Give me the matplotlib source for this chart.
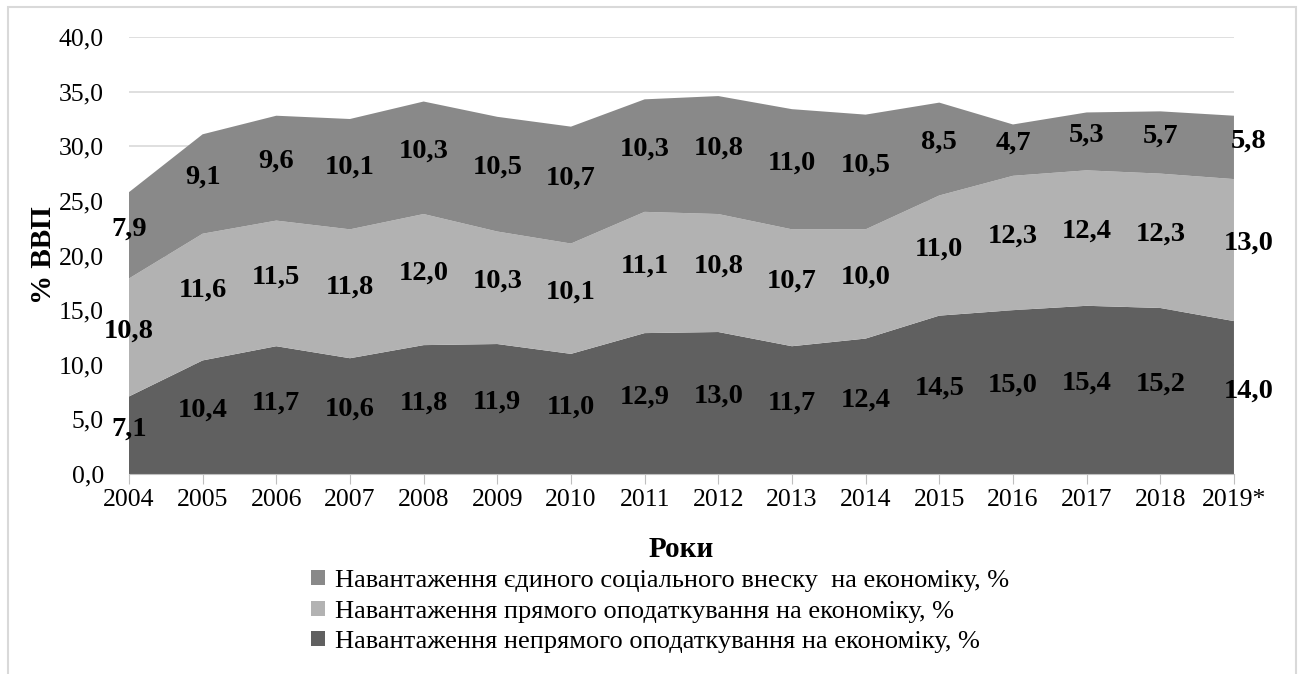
import matplotlib
matplotlib.use("Agg")
import matplotlib.pyplot as plt
import numpy as np
from matplotlib.ticker import FuncFormatter
from matplotlib.patches import Rectangle

plt.rcParams['font.family'] = ['Liberation Serif', 'DejaVu Serif']

years = ['2004', '2005', '2006', '2007', '2008', '2009', '2010', '2011',
         '2012', '2013', '2014', '2015', '2016', '2017', '2018', '2019*']
indirect = [7.1, 10.4, 11.7, 10.6, 11.8, 11.9, 11.0, 12.9, 13.0, 11.7, 12.4, 14.5, 15.0, 15.4, 15.2, 14.0]
direct = [10.8, 11.6, 11.5, 11.8, 12.0, 10.3, 10.1, 11.1, 10.8, 10.7, 10.0, 11.0, 12.3, 12.4, 12.3, 13.0]
esv = [7.9, 9.1, 9.6, 10.1, 10.3, 10.5, 10.7, 10.3, 10.8, 11.0, 10.5, 8.5, 4.7, 5.3, 5.7, 5.8]

names = ['Навантаження непрямого оподаткування на економіку, %',
         'Навантаження прямого оподаткування на економіку, %',
         'Навантаження єдиного соціального внеску  на економіку, %']
colors = ['#606060', '#b2b2b2', '#898989']

fig = plt.figure(figsize=(13, 6.74), dpi=100)
ax = fig.add_axes([0.0992, 0.2967, 0.8500, 0.6483])

x = np.arange(len(years))
series = [indirect, direct, esv]
ax.stackplot(x, *series, colors=colors, labels=names, zorder=2)

# value labels roughly in the middle of each band
base = np.zeros(len(years))
for vals in series:
    vals = np.array(vals)
    mids = base + vals / 2 + 0.6
    for i, (v, m) in enumerate(zip(vals, mids)):
        xi = i + (0.2 if i == len(years) - 1 else 0)
        ax.text(xi, m, f'{v:.1f}'.replace('.', ','), ha='center', va='center',
                fontsize=20.5, fontweight='bold', color='black', zorder=4)
    base = base + vals

ax.set_xlim(0, len(years) - 1)
ax.set_ylim(0, 40)
ax.set_yticks(np.arange(0, 41, 5))
ax.yaxis.set_major_formatter(FuncFormatter(lambda v, p: f'{v:.1f}'.replace('.', ',')))
ax.set_xticks(x)
ax.set_xticklabels(years)
ax.tick_params(axis='y', length=0, labelsize=18.5, pad=18)
ax.tick_params(axis='x', length=7, color='#bfbfbf', labelsize=18.5, pad=4)
ax.grid(axis='y', color='#d9d9d9', linewidth=1.2, zorder=0)
ax.set_axisbelow(True)
for s in ['top', 'right', 'left']:
    ax.spines[s].set_visible(False)
ax.spines['bottom'].set_color('#bfbfbf')

ax.set_ylabel('% ВВП', fontsize=21, fontweight='bold', labelpad=1)
ax.set_xlabel('Роки', fontsize=21, fontweight='bold', labelpad=18)

handles, labels = ax.get_legend_handles_labels()
fig.legend(handles[::-1], labels[::-1], loc='upper center', bbox_to_anchor=(0.508, 0.174),
           ncol=1, frameon=False, fontsize=19, handlelength=0.5, handleheight=0.5,
           handletextpad=0.4, labelspacing=0.33, borderpad=0)

fig.patches.append(Rectangle((0.006, -0.01), 0.991, 1.0, transform=fig.transFigure,
                             fill=False, edgecolor='#d9d9d9', linewidth=1.5))

fig.savefig('out.png', dpi=100)
